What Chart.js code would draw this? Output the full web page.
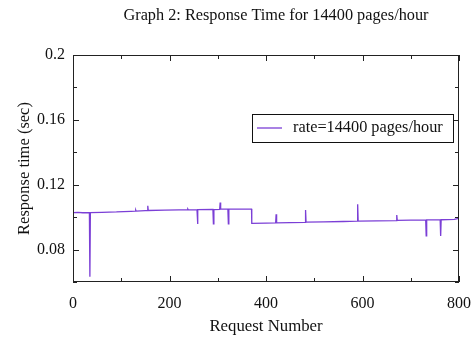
<!DOCTYPE html>
<html>
<head>
<meta charset="utf-8">
<script src="https://cdn.jsdelivr.net/npm/chart.js@4.4.0/dist/chart.umd.min.js"></script>
<style>
  html, body { margin: 0; padding: 0; background: #fff; }
  #wrap { width: 476px; height: 339px; }
</style>
</head>
<body>
<div id="wrap"><canvas id="grafRespuesta"></canvas></div>
<script>
// request number / response time (sec)
const requestNums = [0, 10, 20, 34, 35, 36, 60, 90, 120, 129, 130, 131, 150, 154, 155, 156, 190, 220, 237, 238, 239, 257, 258, 259,
  290, 291, 292, 304, 305, 306, 321, 322, 323, 350, 370, 370.5, 400, 420, 421, 422, 450, 481, 482, 483, 520, 560, 589, 590, 591,
  630, 670, 671, 672, 700, 731, 732, 733, 761, 762, 763, 790, 800];
const responseTimes = [0.1028, 0.1029, 0.1027, 0.1028, 0.0633, 0.1028, 0.1030, 0.1032, 0.1036, 0.1037, 0.1044, 0.1037, 0.1040, 0.1040, 0.1070, 0.1041, 0.1043, 0.1045, 0.1045, 0.1050, 0.1045, 0.1046, 0.0958, 0.1046,
  0.1047, 0.0958, 0.1047, 0.1048, 0.1090, 0.1049, 0.1049, 0.0958, 0.1049, 0.1050, 0.1050, 0.0962, 0.0963, 0.0964, 0.1018, 0.0965, 0.0966, 0.0968, 0.1044, 0.0969, 0.0971, 0.0973, 0.0975, 0.1080, 0.0976,
  0.0977, 0.0979, 0.1013, 0.0980, 0.0981, 0.0982, 0.0884, 0.0983, 0.0983, 0.0884, 0.0984, 0.0986, 0.0993];

const xTickLabels = [0, 200, 400, 600, 800];
const yTickLabels = [0.08, 0.12, 0.16, 0.2];
const xTickMarks = [0, 100, 200, 300, 400, 500, 600, 700, 800];
const yTickMarks = [0.06, 0.08, 0.10, 0.12, 0.14, 0.16, 0.18, 0.2];

const serieLabel = 'rate=14400 pages/hour';
const tituloGrafico = 'Graph 2: Response Time for 14400 pages/hour';
const colorLinea = '#7b3fd6';
const fuente = "'Liberation Serif', 'DejaVu Serif', serif";

// box, inward tick marks, title and legend drawn on top
const marcoPlugin = {
  id: 'marco',
  afterDraw(chart) {
    const ctx = chart.ctx;
    const a = chart.chartArea;
    const sx = chart.scales.x, sy = chart.scales.y;
    ctx.save();
    ctx.strokeStyle = '#222';
    ctx.lineWidth = 1;
    ctx.strokeRect(a.left + 0.5, a.top + 0.5, a.right - a.left - 1, a.bottom - a.top - 1);
    ctx.beginPath();
    xTickMarks.forEach(v => {
      const px = Math.round(sx.getPixelForValue(v)) + 0.5;
      const len = xTickLabels.includes(v) ? 6 : 4;
      ctx.moveTo(px, a.bottom); ctx.lineTo(px, a.bottom - len);
      ctx.moveTo(px, a.top); ctx.lineTo(px, a.top + len);
    });
    yTickMarks.forEach(v => {
      const py = Math.round(sy.getPixelForValue(v)) + 0.5;
      const len = yTickLabels.some(t => Math.abs(t - v) < 1e-9) ? 6 : 4;
      ctx.moveTo(a.left, py); ctx.lineTo(a.left + len, py);
      ctx.moveTo(a.right, py); ctx.lineTo(a.right - len, py);
    });
    ctx.stroke();

    // title
    ctx.fillStyle = '#111';
    ctx.font = '16.3px ' + fuente;
    ctx.textAlign = 'center';
    ctx.textBaseline = 'middle';
    ctx.fillText(tituloGrafico, 276, 16);

    // legend box
    const lx = 252, ly = 114, lw = 201, lh = 28;
    ctx.fillStyle = '#fff';
    ctx.fillRect(lx, ly, lw, lh);
    ctx.strokeStyle = '#111';
    ctx.strokeRect(lx + 0.5, ly + 0.5, lw, lh);
    ctx.strokeStyle = colorLinea;
    ctx.lineWidth = 1.3;
    ctx.beginPath();
    ctx.moveTo(lx + 5, ly + 14); ctx.lineTo(lx + 30, ly + 14);
    ctx.stroke();
    ctx.fillStyle = '#111';
    ctx.font = '16.3px ' + fuente;
    ctx.textAlign = 'left';
    ctx.fillText(serieLabel, lx + 41, ly + 14);
    ctx.restore();
  }
};

const respuesta = document.getElementById("grafRespuesta").getContext("2d");
const graf_respuesta = new Chart(respuesta, {
type: 'line',
data: {
  datasets: [{
    label: serieLabel,
    data: requestNums.map((n, i) => ({ x: n, y: responseTimes[i] })),
    borderColor: colorLinea,
    backgroundColor: colorLinea,
    borderWidth: 1.3,
    pointRadius: 0,
    tension: 0,
    fill: false
  }]
},
options: {
  responsive: true,
  maintainAspectRatio: false,
  animation: false,
  layout: { padding: { top: 55, right: 17, left: 0, bottom: 0 } },
  plugins: {
    legend: { display: false },
    title: { display: false },
    tooltip: { enabled: false }
  },
  scales: {
    x: {
      type: 'linear',
      min: 0,
      max: 800,
      afterBuildTicks: s => { s.ticks = xTickLabels.map(v => ({ value: v })); },
      afterFit: s => { s.height = 57; },
      grid: { display: false },
      border: { display: false },
      ticks: { color: '#111', font: { family: fuente, size: 16 }, padding: 4, maxRotation: 0 },
      title: { display: true, text: 'Request Number', color: '#111', font: { family: fuente, size: 16.8 }, padding: { top: 0, bottom: 2 } }
    },
    y: {
      min: 0.06,
      max: 0.2,
      afterBuildTicks: s => { s.ticks = yTickLabels.map(v => ({ value: v })); },
      afterFit: s => { s.width = 73; },
      grid: { display: false },
      border: { display: false },
      ticks: { color: '#111', font: { family: fuente, size: 16 }, padding: 0, callback: v => String(v) },
      title: { display: true, text: 'Response time (sec)', color: '#111', font: { family: fuente, size: 16.5 }, padding: { top: 15, bottom: 0 } }
    }
  }
},
plugins: [marcoPlugin]
}
);
</script>
</body>
</html>
